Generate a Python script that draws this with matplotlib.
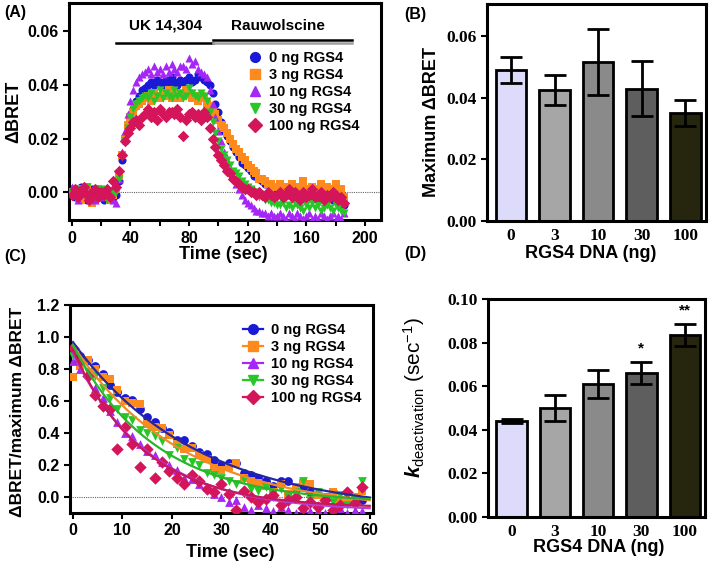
import matplotlib

matplotlib.use("Agg")
import matplotlib.pyplot as plt
import numpy as np
from matplotlib.lines import Line2D
from matplotlib.ticker import FormatStrFormatter, MultipleLocator

plt.rcParams["font.family"] = ["Liberation Sans", "DejaVu Sans"]
plt.rcParams["font.weight"] = "bold"
plt.rcParams["axes.labelweight"] = "bold"
plt.rcParams["mathtext.fontset"] = "custom"
plt.rcParams["mathtext.rm"] = "Liberation Sans:weight=normal"
plt.rcParams["mathtext.it"] = "Liberation Sans:italic:bold"

# ---- data -------------------------------------------------------------
labels = ["0 ng RGS4", "3 ng RGS4", "10 ng RGS4", "30 ng RGS4", "100 ng RGS4"]
colors = ["#1a1ad6", "#ff8a1c", "#a526f5", "#27c727", "#d41559"]
fit_colors = ["#26269e", "#f08a2a", "#b040e0", "#2ab52a", "#c8175a"]
markers = ["o", "s", "^", "v", "D"]

# panel A: ΔBRET x1000, sampled every 2 s from 0 to 186 s
time_a = np.arange(0, 188, 2)
bret_0ng = [1, -2, 0, 2, -1, -3, 0, 1, -2, -1, 0, -3, -1, 0, -2,
            -1, 4, 12, 19, 24, 28, 31, 34, 36, 38,
            39, 40, 41, 40, 42, 41, 40, 42, 41, 43, 41, 40, 42, 41, 42, 43, 41, 42, 44, 43, 42, 41,
            40, 37, 33, 30, 26, 23, 21, 19, 17, 15, 13, 11, 10, 9, 8, 6, 6, 5, 4, 3, 3, 2, 2, 1,
            1, 0, 2, -1, 0, 1, -2, 0, -1, 1, -2, -1, 0, -3, -1, 0, -2, -1, -3, -2, -4, -3, -5]
bret_3ng = [0, -1, 1, -3, 0, 2, -2, -4, 0, 1, -1, -2, 0, -3, -1,
            1, 6, 14, 20, 25, 28, 30, 32, 33, 34,
            35, 36, 34, 37, 36, 35, 37, 36, 38, 35, 36, 37, 35, 36, 38, 37, 35, 36, 34, 36, 35, 33,
            32, 30, 29, 27, 25, 24, 22, 20, 18, 16, 15, 13, 12, 10, 9, 8, 7, 5, 5, 4, 3, 3, 2, 2,
            3, 1, 2, 0, 3, 1, 0, 2, 4, 1, 0, 2, -1, 1, 3, 0, 2, 1, -1, 3, 0, 1, -2]
bret_10ng = [2, -1, -3, 0, 1, -2, 0, -1, -3, 1, -2, 0, -1, -2, -3,
             -4, 5, 15, 23, 29, 34, 38, 41, 43, 44,
             45, 46, 44, 47, 45, 46, 44, 47, 45, 48, 46, 45, 47, 47, 46, 50, 48, 49, 46, 45, 44, 43,
             38, 33, 28, 23, 19, 15, 12, 9, 6, 3, 1, -1, -3, -4, -5, -6, -7, -7, -8, -8, -9, -8, -9, -9,
             -8, -9, -10, -8, -9, -10, -8, -9, -10, -9, -8, -10, -9, -10, -8, -9, -10, -9, -8, -10, -9, -10, -8]
bret_30ng = [0, -2, 1, -1, 0, 2, -3, -1, 0, -2, 1, -1, -3, 0, -1,
             0, 5, 13, 19, 24, 28, 31, 33, 34, 35,
             36, 35, 37, 34, 36, 38, 35, 37, 36, 35, 38, 36, 37, 35, 36, 39, 37, 36, 35, 37, 36, 34,
             30, 26, 22, 19, 16, 14, 12, 10, 8, 7, 6, 4, 3, 2, 1, 0, -1, -2, -2, -3, -3, -4, -4, -5,
             -5, -4, -6, -5, -6, -4, -5, -6, -7, -5, -6, -4, -6, -5, -7, -6, -5, -6, -7, -5, -6, -7, -8]
bret_100ng = [-1, 1, -2, 0, 2, -1, -3, 0, 1, -2, 0, -1, 1, -2, 4,
              2, 8, 14, 19, 22, 24, 26, 27, 25, 28,
              29, 31, 28, 30, 27, 31, 29, 28, 30, 30, 29, 31, 28, 21, 27, 29, 30, 28, 29, 27, 30, 28,
              24, 20, 17, 14, 12, 10, 8, 7, 5, 4, 3, 2, 1, 1, 0, 0, -1, 0, -1, -2, 0, -1, -2, -1,
              0, -2, -1, 1, -2, 0, -1, -3, 0, -2, -1, 1, -2, -1, 0, -3, -1, -2, 0, -1, -3, -2, -4]
bret_a = [bret_0ng, bret_3ng, bret_10ng, bret_30ng, bret_100ng]

# panel B: maximum ΔBRET
doses = ["0", "3", "10", "30", "100"]
bar_colors = ["#dcdcfa", "#a6a6a6", "#8a8a8a", "#5e5e5e", "#26260e"]
max_bret = [0.049, 0.0425, 0.0515, 0.043, 0.035]
max_bret_err = [0.0043, 0.0048, 0.0107, 0.0088, 0.0042]

# panel C: normalised ΔBRET x100, sampled every 1.5 s
time_c = np.arange(0, 60, 1.5)
norm_0ng = [90, 88, 86, 82, 77, 70, 66, 62, 61, 55, 50, 47, 43, 41, 36, 36, 32, 28, 27, 23,
            20, 21, 21, 15, 14, 12, 10, 7, 10, 10, 5, 6, 3, 2, 0, 3, -2, -3, 0, -2]
norm_3ng = [75, 82, 86, 80, 75, 74, 67, 60, 59, 58, 46, 44, 43, 39, 33, 30, 31, 26, 24, 18,
            17, 19, 21, 12, 10, 9, 7, 3, 8, 2, 6, 9, 8, 1, 0, 3, -2, -4, 0, 4]
norm_10ng = [85, 80, 78, 68, 62, 54, 47, 40, 38, 33, 29, 26, 22, 20, 17, 12, 11, 8, 6, 2,
             0, -3, -2, -6, -8, -5, -7, -9, -6, -8, -10, -7, -9, -8, -10, -9, -7, -10, -8, -9]
norm_30ng = [88, 84, 78, 76, 68, 62, 55, 50, 48, 42, 40, 38, 35, 26, 31, 24, 22, 20, 15, 14,
             12, 10, 8, 11, 5, 4, 6, 2, 5, 0, 3, 10, -2, 3, 0, -3, 1, -5, -2, 10]
norm_100ng = [93, 85, 76, 64, 57, 55, 30, 44, 33, 19, 30, 12, 22, 16, 12, 8, 14, 10, 5, 3,
              8, 2, -8, 4, 0, -3, -1, 1, -5, -2, 0, -7, -3, -6, -2, -8, -5, 3, -4, 6]
norm_c = [norm_0ng, norm_3ng, norm_10ng, norm_30ng, norm_100ng]
# one-phase decay fits: y = (y0 - plateau) * exp(-k t) + plateau
fit_y0 = [0.97, 0.95, 0.90, 0.95, 0.92]
fit_k = [0.040, 0.045, 0.065, 0.060, 0.070]
fit_plateau = [-0.10, -0.09, -0.09, -0.04, -0.07]

# panel D: deactivation rate constants
k_deact = [0.044, 0.050, 0.061, 0.066, 0.0835]
k_deact_err = [0.001, 0.006, 0.0063, 0.005, 0.005]
k_stars = ["", "", "", "*", "**"]

# ---- figure -----------------------------------------------------------
fig = plt.figure(figsize=(7.09, 5.66), dpi=100)
axA = fig.add_axes([0.0973, 0.611, 0.440, 0.383])
axB = fig.add_axes([0.687, 0.610, 0.309, 0.383])
axC = fig.add_axes([0.0987, 0.0936, 0.427, 0.367])
axD = fig.add_axes([0.688, 0.0866, 0.307, 0.385])

for ax in (axA, axB, axC, axD):
    for sp in ax.spines.values():
        sp.set_linewidth(2.2)
    ax.tick_params(width=1.5, length=4, labelsize=11.5)

# (A) time course
for i in range(5):
    axA.scatter(time_a, np.array(bret_a[i]) / 1000, s=34, marker=markers[i],
                color=colors[i], linewidths=0, zorder=2 + i)
axA.axhline(0, color="#666666", lw=0.8, ls=(0, (1, 1)), zorder=1)
axA.set_xlim(-2, 211)
axA.set_ylim(-0.0105, 0.0705)
axA.xaxis.set_major_locator(MultipleLocator(40))
axA.xaxis.set_minor_locator(MultipleLocator(20))
axA.yaxis.set_major_locator(MultipleLocator(0.02))
axA.tick_params(which="minor", width=1.5, length=4)
axA.yaxis.set_major_formatter(FormatStrFormatter("%.2f"))
axA.plot([30, 96], [0.0556, 0.0556], color="black", lw=1.8, clip_on=False)
axA.plot([96, 191], [0.0570, 0.0570], color="black", lw=1.8, clip_on=False)
axA.plot([96, 191], [0.0557, 0.0557], color="#a0a0a0", lw=1.8, clip_on=False)
axA.text(64, 0.0622, "UK 14,304", ha="center", va="center", fontsize=11)
axA.text(141, 0.0622, "Rauwolscine", ha="center", va="center", fontsize=11)
handles_a = [Line2D([], [], marker=markers[i], color=colors[i], ls="none", markersize=7)
             for i in range(5)]
axA.legend(handles_a, labels, loc="upper left", bbox_to_anchor=(0.577, 0.78),
           frameon=False, fontsize=10.5, handlelength=0.8, handletextpad=0.6,
           labelspacing=0.2, borderpad=0, borderaxespad=0)
axA.set_xlabel("Time (sec)", fontsize=13)
axA.set_ylabel("ΔBRET", fontsize=13)
axA.xaxis.set_label_coords(0.494, -0.12)
axA.yaxis.set_label_coords(-0.15, 0.5)

# (B) maximum response, shared bar styling with (D)
xpos = np.arange(5)
serif = {"family": "Liberation Serif", "weight": "bold", "size": 12.5}
for ax, vals, errs in ((axB, max_bret, max_bret_err), (axD, k_deact, k_deact_err)):
    ax.bar(xpos, vals, width=0.7, color=bar_colors, edgecolor="black", linewidth=2, zorder=2)
    ax.errorbar(xpos, vals, yerr=errs, fmt="none", ecolor="black", elinewidth=2,
                capsize=8, capthick=2, zorder=3)
    ax.set_xlim(-0.55, 4.48)
    ax.set_xticks(xpos)
    ax.set_xticklabels(doses)
    ax.tick_params(axis="x", length=0, pad=5)
    ax.set_xlabel("RGS4 DNA (ng)", fontsize=13)

axB.set_ylim(0, 0.0705)
axB.set_yticks([0, 0.02, 0.04, 0.06])
axB.set_yticklabels(["0.00", "0.02", "0.04", "0.06"])
axB.set_ylabel("Maximum ΔBRET", fontsize=13)
axB.xaxis.set_label_coords(0.475, -0.11)
axB.yaxis.set_label_coords(-0.215, 0.456)

# (C) normalised deactivation
t_fit = np.linspace(0, 60, 200)
for i in range(5):
    axC.scatter(time_c, np.array(norm_c[i]) / 100, s=40, marker=markers[i],
                color=colors[i], linewidths=0, zorder=2 + i)
for i in range(5):
    y_fit = (fit_y0[i] - fit_plateau[i]) * np.exp(-fit_k[i] * t_fit) + fit_plateau[i]
    axC.plot(t_fit, y_fit, color=fit_colors[i], lw=1.6, zorder=8)
axC.axhline(0, color="#666666", lw=0.8, ls=(0, (1, 1)), zorder=1)
axC.set_xlim(-0.6, 60.6)
axC.set_ylim(-0.1, 1.2)
axC.xaxis.set_major_locator(MultipleLocator(10))
axC.yaxis.set_major_locator(MultipleLocator(0.2))
axC.yaxis.set_major_formatter(FormatStrFormatter("%.1f"))
handles_c = [Line2D([], [], marker=markers[i], color=colors[i], markersize=7, lw=1.6)
             for i in range(5)]
axC.legend(handles_c, labels, loc="upper left", bbox_to_anchor=(0.571, 0.913),
           frameon=False, fontsize=10.5, handlelength=1.4, handletextpad=0.5,
           labelspacing=0.2, borderpad=0, borderaxespad=0)
axC.set_xlabel("Time (sec)", fontsize=13)
axC.set_ylabel("ΔBRET/maximum ΔBRET", fontsize=12.5)
axC.xaxis.set_label_coords(0.528, -0.15)
axC.yaxis.set_label_coords(-0.15, 0.486)

# (D) rate constants
axD.set_ylim(0, 0.1)
axD.set_yticks([0, 0.02, 0.04, 0.06, 0.08, 0.10])
axD.set_yticklabels(["0.00", "0.02", "0.04", "0.06", "0.08", "0.10"])
for x, v, e, st in zip(xpos, k_deact, k_deact_err, k_stars):
    if st:
        axD.text(x, v + e + 0.003, st, ha="center", va="bottom", fontsize=11)
axD.set_ylabel(r"$\mathit{k}_{\mathrm{deactivation}}\ \mathrm{(sec^{-1})}$", fontsize=15)
axD.xaxis.set_label_coords(0.51, -0.10)
axD.yaxis.set_label_coords(-0.28, 0.55)

for ax in (axB, axD):
    for lab in ax.get_xticklabels() + ax.get_yticklabels():
        lab.set_fontproperties(serif)

# panel letters
for txt, x, y in (("(A)", 4, 12), ("(B)", 404, 15), ("(C)", 4, 257), ("(D)", 404, 253)):
    fig.text(x / 709, 1 - y / 566, txt, fontsize=11.5, va="center", ha="left")

fig.savefig("out.png", dpi=100)
